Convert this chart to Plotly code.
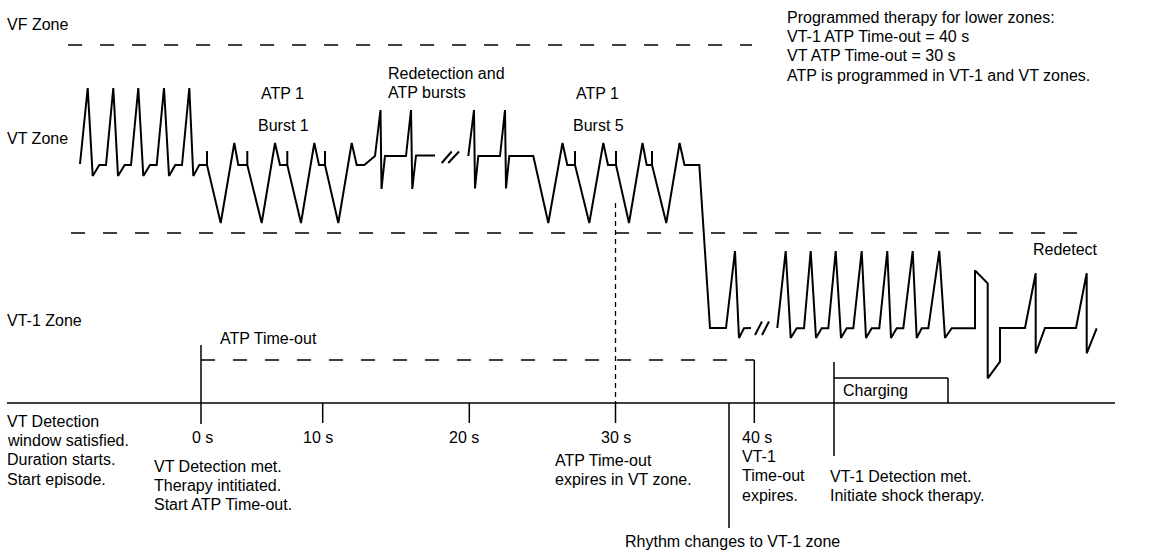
import plotly.graph_objects as go

# ---------------- data (diagram units: px-like canvas, y grows downward) -------------
# ECG trace, VT zone part before first break
seg1_x = [80, 87.7, 92.7, 99.3, 106, 113.3, 118, 124.7, 131, 138.3, 143.3, 150, 156.7,
          164, 169, 175.3, 182, 189.3, 193.3, 199.3, 207, 207, 207,
          220.7, 234.3, 238.3, 247.3, 247.3, 247.3, 261.7, 275, 280, 287.3, 287.3, 287.3,
          301, 314.3, 319, 325, 325, 325, 338.3, 351.7, 356.7, 364.3, 375, 380.5, 381.5,
          385, 406, 411, 412.3, 416, 435]
seg1_y = [164, 88, 176, 165, 165, 88, 176, 165, 165, 88, 176, 165, 165,
          88, 176, 165, 165, 88, 176, 165, 165, 151, 165,
          223, 143, 165, 165, 151, 165, 223, 143, 165, 165, 151, 165,
          223, 143, 165, 165, 151, 165, 223, 143, 165, 165, 156, 110, 189,
          156, 156, 110, 189, 155.5, 155.5]
# After first break: redetection, burst 5, drop into VT-1 zone
seg2_x = [468.3, 474, 475, 478.3, 500, 505, 506, 509.3, 533.3, 548.3, 562.5, 567.3, 575,
          575, 575, 589.3, 603.3, 608, 616, 616, 616, 629, 642.5, 646.7, 652, 652, 652,
          666.3, 679.6, 684.5, 699.3, 710, 726, 735, 739, 744, 751]
seg2_y = [156, 110, 188.5, 156, 156, 110, 188.5, 156, 156, 223, 143, 165, 165,
          151, 165, 223, 143, 165, 165, 151, 165, 223, 143, 165, 165, 151, 165,
          223, 143, 165, 165, 328, 328, 251, 338, 328.3, 328]
# After second break: VT-1 zone rhythm, shock, redetect
seg3_x = [777.3, 785.7, 790.7, 796.7, 804, 810.7, 816, 821.7, 828.3, 835.7, 841, 846.7,
          853.3, 861.7, 866, 871.7, 879.3, 887.3, 891, 896.7, 903.3, 912.7, 916.7, 921.7,
          928.3, 939.3, 945, 951.7, 975, 975, 987.7, 987.7, 1000, 1000, 1025, 1035.7,
          1035.7, 1045, 1076, 1086.7, 1086.7, 1096.7]
seg3_y = [328, 251, 338, 328.3, 328.3, 251, 338, 328.3, 328.3, 251, 338, 328.3,
          328.3, 251, 338, 328.3, 328.3, 251, 338, 328.3, 328.3, 251, 338, 328.3,
          328.3, 251, 338, 328.3, 328.3, 270.5, 283.3, 378.3, 361.7, 328, 328, 273.3,
          353.3, 328, 328, 273.3, 353.3, 328.3]
# break marks "//"
break_x = [[441.7, 451.7], [448.3, 459], [755, 762], [762, 769]]
break_y = [[163, 151.5], [163, 151.5], [335, 321.5], [335, 321.5]]

# zone boundaries (y) and their extents
zone_labels = ["VF Zone", "VT Zone", "VT-1 Zone"]
zone_label_y = [24, 138, 320]
vf_line = dict(y=45, x0=68, x1=752)
vt_line = dict(y=233, x0=71, x1=1080)

# timeline
axis_y = 403
axis_x = [7, 1115]
tick_labels = ["0 s", "10 s", "20 s", "30 s"]
tick_x = [201, 322.7, 469.3, 615.5]
tick_label_x = [202, 317.5, 463.7, 616]
t40_x = 754.3
rhythm_x = 729
charge_x = [834, 948]
atp_timeout_y = 360

# text blocks
top_note = ["Programmed therapy for lower zones:", "VT-1 ATP Time-out = 40 s",
            "VT ATP Time-out = 30 s", "ATP is programmed in VT-1 and VT zones."]
left_note = ["VT Detection", "window satisfied.", "Duration starts.", "Start episode."]
det_note = ["VT Detection met.", "Therapy intitiated.", "Start ATP Time-out."]
exp_note = ["ATP Time-out", "expires in VT zone."]
vt1_note = ["40 s", "VT-1", "Time-out", "expires."]
shock_note = ["VT-1 Detection met.", "Initiate shock therapy."]

FONT = "Liberation Sans, Arial, Helvetica, sans-serif"
LS = 19.4

fig = go.Figure()

# ECG trace
tx = seg1_x + [None] + seg2_x + [None] + seg3_x
ty = seg1_y + [None] + seg2_y + [None] + seg3_y
fig.add_trace(go.Scatter(x=tx, y=ty, mode="lines", line=dict(color="black", width=2),
                         hoverinfo="skip", showlegend=False))
bx, by = [], []
for a, b in zip(break_x, break_y):
    bx += a + [None]
    by += b + [None]
fig.add_trace(go.Scatter(x=bx, y=by, mode="lines", line=dict(color="black", width=2),
                         hoverinfo="skip", showlegend=False))

shapes = []
def line(x0, y0, x1, y1, w=1.5, dash=None):
    d = dict(type="line", xref="x", yref="y", x0=x0, y0=y0, x1=x1, y1=y1,
             line=dict(color="black", width=w))
    if dash:
        d["line"]["dash"] = dash
    shapes.append(d)

DASH = "14px,18px"
line(vf_line["x0"], vf_line["y"], vf_line["x1"], vf_line["y"], 1.3, DASH)
line(vt_line["x0"], vt_line["y"], vt_line["x1"], vt_line["y"], 1.3, DASH)
line(tick_x[0], atp_timeout_y, t40_x, atp_timeout_y, 1.3, DASH)
# axis
line(axis_x[0], axis_y, axis_x[1], axis_y, 1.5)
# ticks
line(tick_x[0], 345, tick_x[0], 424, 1.5)
line(tick_x[1], axis_y, tick_x[1], 423, 1.5)
line(tick_x[2], axis_y, tick_x[2], 423, 1.5)
line(tick_x[3], 203, tick_x[3], axis_y, 1.3, "5px,4px")
line(tick_x[3], axis_y, tick_x[3], 423, 1.5)
line(t40_x, atp_timeout_y, t40_x, 423, 1.5)
line(rhythm_x, axis_y, rhythm_x, 528, 1.5)
# charging box
line(charge_x[0], 362, charge_x[0], 456, 1.5)
line(charge_x[0], 378, charge_x[1], 378, 1.5)
line(charge_x[1], 378, charge_x[1], axis_y, 1.5)

annotations = []
def txt(s, x, y, anchor="left"):
    annotations.append(dict(text=s, x=x, y=y, xref="x", yref="y", xanchor=anchor,
                            yanchor="middle", showarrow=False,
                            font=dict(family=FONT, size=16, color="black")))

def block(lines, x, y0, anchor="left"):
    for i, s in enumerate(lines):
        txt(s, x, y0 + i * LS, anchor)

for s, y in zip(zone_labels, zone_label_y):
    txt(s, 5, y)
txt("ATP 1", 282.5, 93, "center")
txt("Burst 1", 283.5, 125, "center")
block(["Redetection and", "ATP bursts"], 386, 73)
txt("ATP 1", 597.5, 93, "center")
txt("Burst 5", 598.3, 125, "center")
block(top_note, 785, 17)
txt("Redetect", 1031, 249)
txt("ATP Time-out", 218, 338)
txt("Charging", 841, 390)
block(left_note, 5, 421)
for s, x in zip(tick_labels, tick_label_x):
    txt(s, x, 437, "center")
block(vt1_note, 740, 437)
block(det_note, 152, 466)
block(exp_note, 553, 460)
block(shock_note, 828, 476)
txt("Rhythm changes to VT-1 zone", 732.5, 541, "center")

fig.update_layout(
    width=1176, height=551, margin=dict(l=0, r=0, t=0, b=0),
    paper_bgcolor="white", plot_bgcolor="white",
    xaxis=dict(range=[0, 1176], visible=False, fixedrange=True),
    yaxis=dict(range=[551, 0], visible=False, fixedrange=True),
    shapes=shapes, annotations=annotations, showlegend=False,
)
fig.write_html("out.html", config={"displayModeBar": False},
               post_script="document.body.style.margin='0px';document.body.style.overflow='hidden';")
